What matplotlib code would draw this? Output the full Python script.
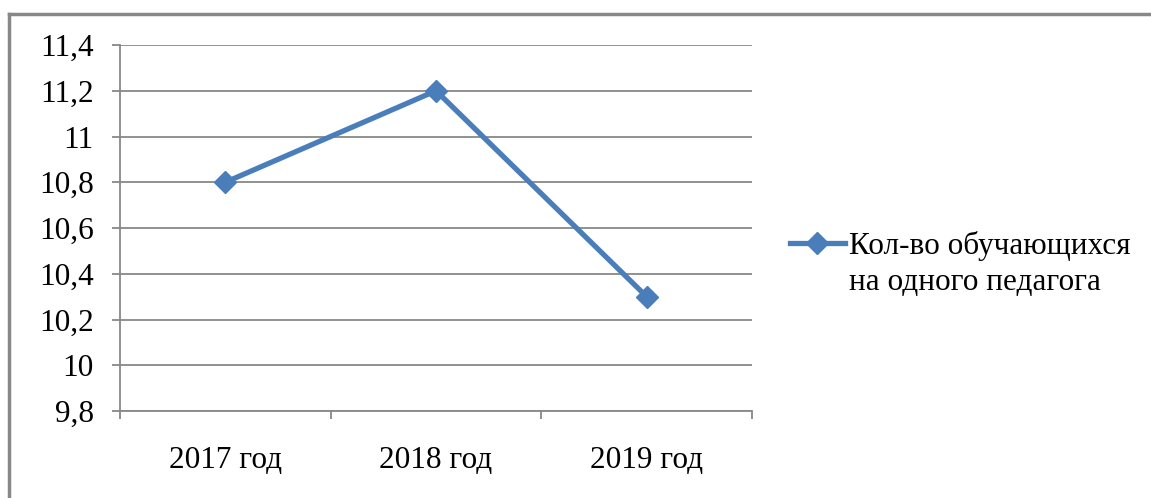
import matplotlib.pyplot as plt
from matplotlib.lines import Line2D

years = ['2017 год', '2018 год', '2019 год']
values = [10.8, 11.2, 10.3]
yticks = [9.8, 10.0, 10.2, 10.4, 10.6, 10.8, 11.0, 11.2, 11.4]
ytick_labels = ['9,8', '10', '10,2', '10,4', '10,6', '10,8', '11', '11,2', '11,4']
series_name = 'Кол-во обучающихся'
series_name2 = 'на одного педагога'

plt.rcParams['font.family'] = 'serif'
plt.rcParams['font.serif'] = ['Liberation Serif', 'DejaVu Serif']
blue = '#4A7EBB'
grey = '#888888'
fs = 22.5

fig = plt.figure(figsize=(11.51, 4.98), dpi=100)
ax = fig.add_axes([120 / 1151, 1 - 411 / 498, (752 - 120) / 1151, (411 - 45) / 498])

x = list(range(len(years)))
ax.plot(x, values, color=blue, lw=3.8, marker='D', markersize=11,
        markerfacecolor=blue, markeredgecolor=blue, label=series_name, zorder=3)
# second line of the legend text, no handle
ax.plot([], [], color='none', label=series_name2)

ax.set_xlim(-0.5, len(years) - 0.5)
ax.set_ylim(9.8, 11.4)
ax.set_yticks(yticks)
ax.set_yticklabels(ytick_labels)
ax.set_xticks(x)
ax.set_xticklabels(years)
ax.set_xticks([i - 0.5 for i in range(len(years) + 1)], minor=True)

ax.tick_params(axis='y', labelsize=fs, length=6, width=1.3, color=grey, pad=13)
ax.tick_params(axis='x', which='major', labelsize=fs, length=0, pad=25)
ax.tick_params(axis='x', which='minor', length=6, width=1.3, color=grey, direction='out')

ax.grid(axis='y', color=grey, lw=1.3)
ax.set_axisbelow(True)
for s in ['top', 'right']:
    ax.spines[s].set_visible(False)
for s in ['left', 'bottom']:
    ax.spines[s].set_color(grey)
    ax.spines[s].set_linewidth(1.3)

fig.legend(loc='center left', bbox_to_anchor=(790 / 1151, 1 - 264 / 498),
           frameon=False, fontsize=fs, handlelength=1.75, handletextpad=0.15,
           borderpad=0, borderaxespad=0, labelspacing=0.2)

# outer chart border (left and top only visible)
fig.add_artist(Line2D([9 / 1151, 9 / 1151], [0, 1 - 14 / 498], color=grey, lw=2.5))
fig.add_artist(Line2D([9 / 1151, 1], [1 - 14 / 498, 1 - 14 / 498], color=grey, lw=2.5))

fig.savefig('out.png', dpi=100)
